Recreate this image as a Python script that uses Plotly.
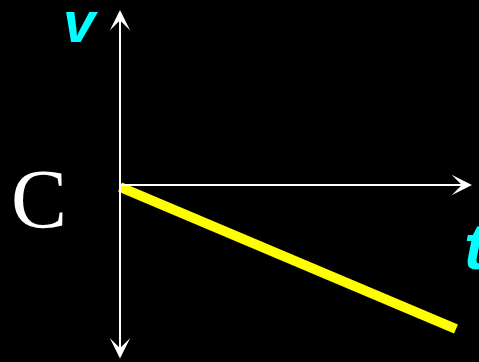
import plotly.graph_objects as go

# data (pixel-like units, origin at axes crossing)
t_vals = [0, 336]
v_vals = [-2, -144]
x_range = [-120, 359]
y_range = [-177, 185]
h_arrow_end = 352
v_arrow_top = 175
v_arrow_bottom = -175

fig = go.Figure()
fig.add_trace(go.Scatter(x=t_vals, y=v_vals, mode="lines",
                         line=dict(color="#ffff00", width=10),
                         hoverinfo="skip", showlegend=False))

# horizontal t-axis arrow
fig.add_annotation(x=h_arrow_end, y=0, ax=0, ay=0, xref="x", yref="y",
                   axref="x", ayref="y", text="", showarrow=True,
                   arrowhead=3, arrowsize=1.7, arrowwidth=2, arrowcolor="white")
# vertical v-axis double arrow
fig.add_annotation(x=0, y=v_arrow_top, ax=0, ay=v_arrow_bottom, xref="x", yref="y",
                   axref="x", ayref="y", text="", showarrow=True,
                   arrowhead=3, startarrowhead=3, arrowside="end+start",
                   arrowsize=1.7, startarrowsize=1.7, arrowwidth=2, arrowcolor="white")

fig.add_annotation(x=-40, y=164, text="v", showarrow=False, xref="x", yref="y",
                   font=dict(family="Liberation Sans", size=58, color="#00ffff",
                             weight="bold", style="italic"))
fig.add_annotation(x=342, y=-62, text="t", showarrow=False, xref="x", yref="y",
                   xanchor="left",
                   font=dict(family="Liberation Sans", size=64, color="#00ffff",
                             weight="bold", style="italic"))
fig.add_annotation(x=-81, y=-14, text="C", showarrow=False, xref="x", yref="y",
                   font=dict(family="Liberation Serif", size=84, color="white"))

fig.update_layout(width=479, height=362, margin=dict(l=0, r=0, t=0, b=0),
                  paper_bgcolor="black", plot_bgcolor="black",
                  xaxis=dict(range=x_range, visible=False, fixedrange=True),
                  yaxis=dict(range=y_range, visible=False, fixedrange=True),
                  showlegend=False)
fig.write_html("out.html", config={"displayModeBar": False},
               post_script="document.body.style.margin='0';document.body.style.background='black';")
